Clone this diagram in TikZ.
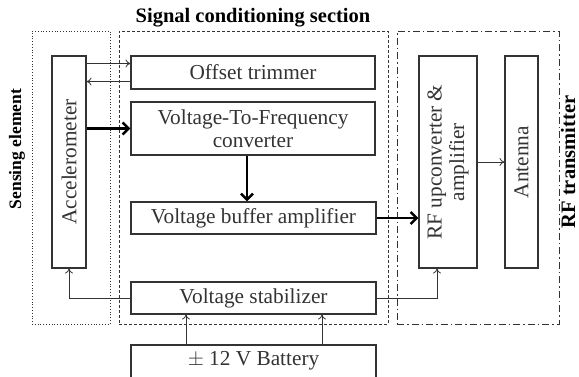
\documentclass[tikz,border=0pt]{standalone}
\usepackage{fontspec}
\setmainfont{Liberation Serif}
\usetikzlibrary{arrows.meta,calc}
\definecolor{ink}{HTML}{333333}
\tikzset{
  blk/.style={draw=ink, line width=1.1pt, inner sep=0pt, text=ink, align=center,
    font=\fontsize{21.3}{22.5}\selectfont},
  grp/.style={draw=ink, inner sep=0pt, line width=0.8pt},
  lbl/.style={text=black, inner sep=0pt, font=\fontsize{20.5}{22}\selectfont\bfseries},
  thin arr/.style={draw=ink, line width=0.8pt, -{To[length=5pt,width=8pt]}},
  thick arr/.style={draw=black, line width=2.6pt, -{Straight Barb[length=6pt,width=12pt]}},
}
\begin{document}
\begin{tikzpicture}[x=1pt,y=-1pt]
\useasboundingbox (0,0) rectangle (579,376);
% groups
\node[grp, dotted, minimum width=78pt, minimum height=293pt] (sens) at (71,177.5) {};
\node[grp, dash pattern=on 3pt off 2pt, minimum width=269pt, minimum height=293pt] (sig) at (253.5,177.5) {};
\node[grp, dash pattern=on 7pt off 3pt on 1.5pt off 3pt, minimum width=162pt, minimum height=293pt] (rft) at (478,177.5) {};
% group labels
\node[lbl] (siglbl) at (253,18) {Signal conditioning section};
\node[lbl, rotate=90, font=\fontsize{17.5}{20}\selectfont\bfseries] (senslbl) at (17,149) {Sensing element};
\node[lbl, rotate=90] (rflbl) at (568,162) {RF transmitter};
% blocks
\node[blk, minimum width=34pt, minimum height=212pt] (acc) at (69,162) {};
\node[blk, rotate=90, draw=none] (acct) at (69,162) {Accelerometer};
\node[blk, minimum width=244pt, minimum height=33pt] (off) at (253,72.5) {Offset trimmer};
\node[blk, minimum width=244pt, minimum height=53pt] (vtf) at (253,128.5) {Voltage-To-Frequency\\converter};
\node[blk, minimum width=245pt, minimum height=32pt] (buf) at (253.5,218) {Voltage buffer amplifier};
\node[blk, minimum width=245pt, minimum height=32pt] (stab) at (253.5,298) {Voltage stabilizer};
\node[blk, minimum width=245pt, minimum height=35pt] (bat) at (253.5,362.5) {};
\node[blk, draw=none] (batt) at (253.5,361) {$\pm$ 12 V Battery};
\node[blk, minimum width=58pt, minimum height=212pt] (rf) at (448,162) {};
\node[blk, rotate=90, draw=none] (rft2) at (448,162) {RF upconverter \&\\amplifier};
\node[blk, minimum width=33pt, minimum height=212pt] (ant) at (521.5,162) {};
\node[blk, rotate=90, draw=none] (antt) at (521.5,162) {Antenna};
% connectors
\draw[thin arr] ([yshift=-8pt]acc.north east) -- ([yshift=-8pt]off.north west);
\coordinate (tr) at ($(off.south west)+(0,-8)$);
\draw[thin arr] (tr) -- (acc.east |- tr);
\draw[thick arr] (acc.east |- vtf.west) -- (vtf.west);
\draw[thick arr] ([xshift=-6pt]vtf.south) -- ([xshift=-6pt]vtf.south |- buf.north);
\draw[thick arr] (buf.east) -- (buf.east -| rf.west);
\draw[thin arr] (stab.west) -| (acc.south);
\coordinate (rfin) at ([xshift=-11pt]rf.south);
\draw[thin arr] (stab.east) -| (rfin);
\draw[thin arr] ([xshift=-67.5pt]bat.north) -- ([xshift=-67.5pt]bat.north |- stab.south);
\draw[thin arr] ([xshift=68.5pt]bat.north) -- ([xshift=68.5pt]bat.north |- stab.south);
\draw[thin arr] (rf.east) -- (ant.west);
\end{tikzpicture}
\end{document}
